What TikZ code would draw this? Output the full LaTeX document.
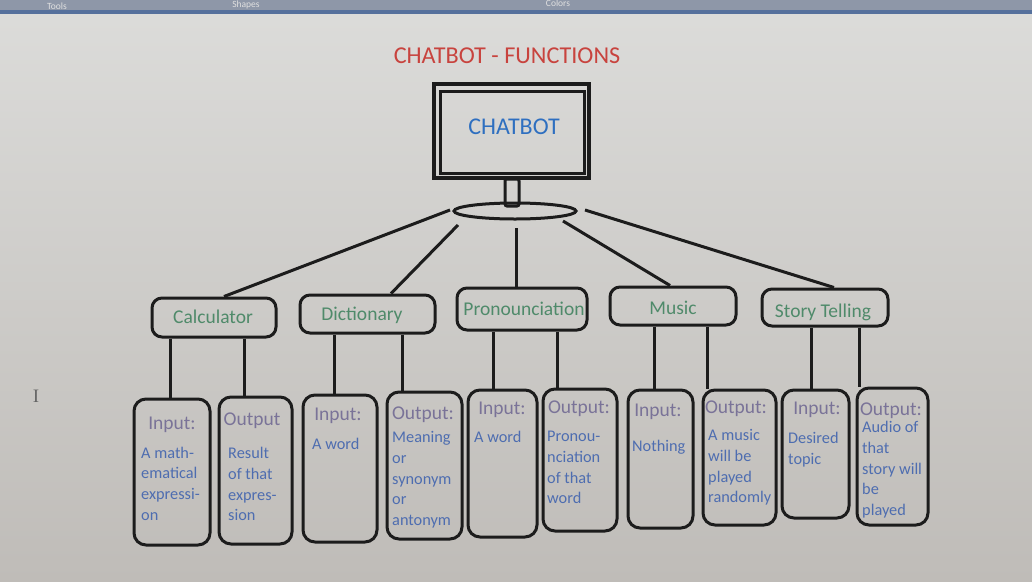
\documentclass[tikz,border=0pt]{standalone}
\usepackage{fontspec}
\setmainfont{Carlito}
\newfontfamily\serifI{Liberation Serif}
\usetikzlibrary{fit,shapes.geometric}
\definecolor{bgtop}{HTML}{DCDCDA}
\definecolor{bgbot}{HTML}{BFBCB8}
\definecolor{barc}{HTML}{8E97A8}
\definecolor{barline}{HTML}{55709C}
\definecolor{titlered}{HTML}{C8433E}
\definecolor{botblue}{HTML}{2E6FC0}
\definecolor{lvlgreen}{HTML}{4F8A6A}
\definecolor{headpurple}{HTML}{7A7398}
\definecolor{bodyblue}{HTML}{4E6DB0}
\definecolor{ink}{HTML}{1C1C1C}
\tikzset{
  lvlbox/.style={draw=ink, line width=3pt, rounded corners=10pt, inner sep=0pt},
  leafbox/.style={draw=ink, line width=3pt, rounded corners=12pt, inner sep=0pt},
  lvltxt/.style={anchor=base, inner sep=0pt, text=lvlgreen, font=\fontsize{19.5}{23}\selectfont},
  headtxt/.style={anchor=base, inner sep=0pt, text=headpurple, font=\fontsize{19.5}{23}\selectfont},
  bodytxt/.style={anchor=base west, inner sep=0pt, text=bodyblue, font=\fontsize{16.3}{20}\selectfont},
  conn/.style={draw=ink, line width=3pt},
  bartxt/.style={anchor=center, inner sep=0pt, text=black!12, font=\fontsize{9.5}{10}\selectfont},
}
\newcommand\bodylines[4]{%
  \foreach \t [count=\i] in {#4} {\node[bodytxt] (#1\i) at (#2, #3+20.8*\i-20.8) {\t};}}
\begin{document}
\begin{tikzpicture}[x=1pt,y=-1pt]
\useasboundingbox (0,0) rectangle (1032,581);
% photo background
\shade[top color=bgtop, bottom color=bgbot] (0,0) rectangle (1032,581);
\fill[barc] (0,0) rectangle (1032,11);
\fill[barline] (0,10) rectangle (1032,13.5);
\node[bartxt] (tools) at (57,6) {Tools};
\node[bartxt] (shapes) at (246,4.5) {Shapes};
\node[bartxt] (colors) at (558,3.5) {Colors};
\node[inner sep=0pt, text=black!60, font=\serifI\fontsize{19}{20}\selectfont] (cursor) at (36,396) {I};

% title
\node[anchor=base, inner sep=0pt, text=titlered, font=\fontsize{24.2}{28}\selectfont] (title) at (507,63) {CHATBOT - FUNCTIONS};

% monitor
\node[draw=ink, line width=3.5pt, inner sep=0pt, fit={(434,84)(589,178)}] (monitor) {};
\node[draw=ink, line width=3pt, inner sep=0pt, fit={(440,91)(584,173)}] (screen) {};
\node[anchor=base, inner sep=0pt, text=botblue, font=\fontsize{24}{28}\selectfont] (bot) at (514,134) {CHATBOT};
\node[draw=ink, line width=3pt, rounded corners=2pt, inner sep=0pt, fit={(505,179)(519,206)}] (stem) {};
\node[draw=ink, ellipse, line width=3pt, minimum width=122pt, minimum height=16pt, inner sep=0pt] (base) at (515,211) {};

% level 2 boxes
\node[lvlbox, fit={(152,298)(276,337)}] (calc) {};
\node[lvlbox, fit={(300,295)(435,333)}] (dict) {};
\node[lvlbox, fit={(457,288)(587,330)}] (pron) {};
\node[lvlbox, fit={(610,287)(736,325)}] (music) {};
\node[lvlbox, fit={(762,289)(888,326)}] (story) {};
\node[lvltxt] (calcl) at (213,323) {Calculator};
\node[lvltxt] (dictl) at (362,320) {Dictionary};
\node[lvltxt] (pronl) at (524,315) {Pronounciation};
\node[lvltxt] (musicl) at (673,314) {Music};
\node[lvltxt] (storyl) at (823,317) {Story Telling};

% connectors from the base
\coordinate (e1) at (450,210);
\coordinate (e2) at (458,225);
\coordinate (e3) at (516,228);
\coordinate (e4) at (563,221);
\coordinate (e5) at (585,210);
\draw[conn] (e1) -- (calc.north -| 224,0);
\draw[conn] (e2) -- (dict.north -| 391,0);
\draw[conn] (e3) -- (pron.north -| 516,0);
\draw[conn] (e4) -- (music.north -| 670,0);
\draw[conn] (e5) -- (story.north -| 834,0);

% leaf boxes
\node[leafbox, fit={(134,399)(210,545)}] (calcin) {};
\node[leafbox, fit={(219,397)(292,544)}] (calcout) {};
\node[leafbox, fit={(303,395)(377,542)}] (dictin) {};
\node[leafbox, fit={(387,392)(462,539)}] (dictout) {};
\node[leafbox, fit={(468,390)(537,537)}] (pronin) {};
\node[leafbox, fit={(543,389)(617,531)}] (pronout) {};
\node[leafbox, fit={(628,390)(693,528)}] (musicin) {};
\node[leafbox, fit={(703,390)(776,525)}] (musicout) {};
\node[leafbox, fit={(782,390)(849,518)}] (storyin) {};
\node[leafbox, fit={(857,388)(928,525)}] (storyout) {};

% vertical connectors
\draw[conn] (calc.south -| 170,0) -- (calcin.north -| 170,0);
\draw[conn] (calc.south -| 244,0) -- (calcout.north -| 244,0);
\draw[conn] (dict.south -| 334,0) -- (dictin.north -| 334,0);
\draw[conn] (dict.south -| 402,0) -- (dictout.north -| 402,0);
\draw[conn] (pron.south -| 493,0) -- (pronin.north -| 493,0);
\draw[conn] (pron.south -| 557,0) -- (pronout.north -| 557,0);
\draw[conn] (music.south -| 654,0) -- (musicin.north -| 654,0);
\draw[conn] (music.south -| 707,0) -- (musicout.north -| 707,0);
\draw[conn] (story.south -| 811,0) -- (storyin.north -| 811,0);
\draw[conn] (story.south -| 859,0) -- (storyout.north -| 859,0);

% headings
\node[headtxt] (calcinh) at (172,429) {Input:};
\node[headtxt] (calcouth) at (252,425) {Output};
\node[headtxt] (dictinh) at (338,420) {Input:};
\node[headtxt] (dictouth) at (423,419) {Output:};
\node[headtxt] (proninh) at (502,414) {Input:};
\node[headtxt] (pronouth) at (579,413) {Output:};
\node[headtxt] (musicinh) at (658,416) {Input:};
\node[headtxt] (musicouth) at (736,413) {Output:};
\node[headtxt] (storyinh) at (817,414) {Input:};
\node[headtxt] (storyouth) at (891,415) {Output:};

% bodies
\bodylines{cib}{141}{458}{A math-,ematical,expressi-,on}
\bodylines{cob}{228}{458.5}{Result,of that,expres-,sion}
\bodylines{dib}{312}{449.5}{A word}
\bodylines{dob}{392}{442.5}{Meaning,or,synonym,or,antonym}
\bodylines{pib}{474}{442.5}{A word}
\bodylines{pob}{547}{441.5}{Pronou-,nciation,of that,word}
\bodylines{mib}{632}{451.5}{Nothing}
\bodylines{mob}{708}{440.5}{A music,will be,played,randomly}
\bodylines{sib}{788}{443.5}{Desired,topic}
\bodylines{sob}{862}{432.5}{Audio of,that,story will,be,played}
\end{tikzpicture}
\end{document}
